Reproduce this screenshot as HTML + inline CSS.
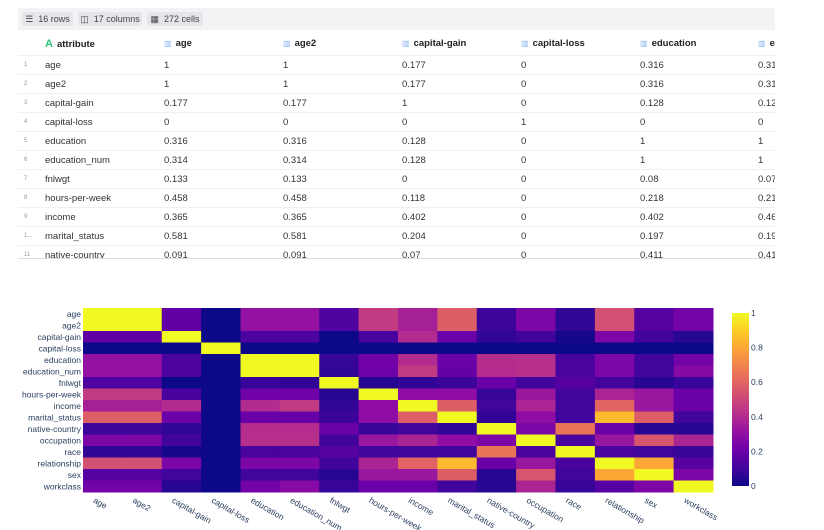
<!DOCTYPE html>
<html><head><meta charset="utf-8"><style>
body{margin:0;width:824px;height:530px;background:#fff;font-family:"Liberation Sans",sans-serif;position:relative;overflow:hidden}
#tbl{position:absolute;left:18px;top:8px;width:757px;height:250px;overflow:hidden;border-bottom:1px solid #ddd}
#bar{height:22px;background:#f2f3f5;position:relative}
.chip{position:absolute;top:4px;height:14px;background:#e4e6ea;border-radius:3px;font-size:9px;color:#444;line-height:14px;text-align:center}
.row{position:absolute;left:0;width:757px;height:19px;border-bottom:1px solid #f0f0f0;font-size:9.5px;color:#333}
.row span{position:absolute;top:5px;white-space:nowrap}
.rn{left:6px;font-size:6px!important;color:#999;top:7px!important}
.hdr{font-weight:bold;color:#222;font-size:9.5px}
.ic{color:#8ab4f0;font-weight:normal;font-size:8px;margin-right:4px}
</style></head><body>
<div id="tbl">
 <div id="bar">
  <div class="chip" style="left:4px;width:51px">☰&nbsp; 16 rows</div>
  <div class="chip" style="left:60px;width:64px">◫&nbsp; 17 columns</div>
  <div class="chip" style="left:129px;width:56px">▦&nbsp; 272 cells</div>
 </div>
 <div id="rows"></div>
</div>
<svg id="hm" width="824" height="530" style="position:absolute;left:0;top:0"></svg>
<script>
const labels=["age","age2","capital-gain","capital-loss","education","education_num","fnlwgt","hours-per-week","income","marital_status","native-country","occupation","race","relationship","sex","workclass"];
const r0=[1,1,0.177,0,0.316,0.314,0.133,0.458,0.365,0.581,0.091,0.25,0.07,0.53,0.15,0.22];
const r1=[1,1,0.177,0,0.316,0.314,0.133,0.458,0.365,0.581,0.091,0.25,0.07,0.53,0.15,0.22];
const r2=[0.177,0.177,1,0,0.128,0.128,0,0.118,0.402,0.204,0.07,0.1,0.02,0.25,0.1,0.05];
const r3=[0,0,0,1,0,0,0,0,0,0,0,0,0,0,0,0];
const r4=[0.316,0.316,0.128,0,1,1,0.08,0.218,0.402,0.197,0.411,0.42,0.12,0.25,0.1,0.22];
const r5=[0.314,0.314,0.128,0,1,1,0.07,0.21,0.46,0.19,0.41,0.42,0.12,0.25,0.1,0.28];
const r6=[0.133,0.133,0,0,0.08,0.07,1,0.05,0.07,0.09,0.2,0.1,0.15,0.1,0.05,0.08];
const r7=[0.458,0.458,0.118,0,0.218,0.21,0.05,1,0.3,0.3,0.08,0.33,0.1,0.38,0.33,0.2];
const r8=[0.365,0.365,0.402,0,0.402,0.46,0.07,0.3,1,0.58,0.1,0.38,0.1,0.6,0.33,0.2];
const r9=[0.581,0.581,0.204,0,0.197,0.19,0.09,0.3,0.58,1,0.07,0.3,0.1,0.85,0.58,0.1];
const r10=[0.091,0.091,0.07,0,0.411,0.41,0.2,0.08,0.1,0.07,1,0.25,0.65,0.2,0.05,0.05];
const r11=[0.25,0.25,0.1,0,0.42,0.42,0.1,0.33,0.38,0.3,0.25,1,0.12,0.33,0.55,0.38];
const r12=[0.07,0.07,0.02,0,0.12,0.12,0.15,0.1,0.1,0.1,0.65,0.12,1,0.12,0.1,0.08];
const r13=[0.53,0.53,0.25,0,0.25,0.25,0.1,0.38,0.6,0.85,0.2,0.33,0.12,1,0.8,0.15];
const r14=[0.15,0.15,0.1,0,0.1,0.1,0.05,0.33,0.33,0.58,0.05,0.55,0.1,0.8,1,0.25];
const r15=[0.22,0.22,0.05,0,0.22,0.28,0.08,0.2,0.2,0.1,0.05,0.38,0.08,0.15,0.25,1];
const matrix=[r0,r1,r2,r3,r4,r5,r6,r7,r8,r9,r10,r11,r12,r13,r14,r15];
const cbTicks=[0,0.2,0.4,0.6,0.8,1];
const tableCols=["age","age2","capital-gain","capital-loss","education","education_num"];

const NS="http://www.w3.org/2000/svg";
const stops=["#0d0887","#41049d","#6a00a8","#8f0da4","#b12a90","#cc4778","#e16462","#f2844b","#fca636","#fcce25","#f0f921"];
function hex(h){return [1,3,5].map(i=>parseInt(h.substr(i,2),16));}
function color(v){v=Math.max(0,Math.min(1,v));const p=v*10,i=Math.min(9,Math.floor(p)),t=p-i;const a=hex(stops[i]),b=hex(stops[i+1]);return "rgb("+a.map((c,k)=>Math.round(c+(b[k]-c)*t)).join(",")+")";}
const X0=83,X1=713,Y0=308,Y1=492,n=labels.length;
const cw=(X1-X0)/n,ch=(Y1-Y0)/n;
const xs=j=>X0+j*cw, ys=i=>Y0+i*ch;
const svg=document.getElementById('hm');
function el(t,a){const e=document.createElementNS(NS,t);for(const k in a)e.setAttribute(k,a[k]);svg.appendChild(e);return e;}
matrix.forEach((row,i)=>row.forEach((v,j)=>{
 const r=el('rect',{x:xs(j),y:ys(i),width:cw+0.5,height:ch+0.5,fill:color(v)});
 
 
}));
labels.forEach((l,i)=>{
 const t=el('text',{x:X0-2,y:ys(i)+ch/2+3,'text-anchor':'end','font-size':8.5,fill:'#2a3f5f'});t.textContent=l;
 
 
 const cx=xs(i)+cw/2;
 const u=el('text',{x:cx-10,y:Y1+10,'font-size':8.5,fill:'#2a3f5f',transform:`rotate(30 ${cx-10} ${Y1+10})`});u.textContent=l;
 
 
});
const CB0=313,CB1=486,CX=732,CW=17;
const defs=el('defs',{});const g=document.createElementNS(NS,'linearGradient');g.setAttribute('id','cbg');g.setAttribute('x1',0);g.setAttribute('y1',1);g.setAttribute('x2',0);g.setAttribute('y2',0);
stops.forEach((s,k)=>{const st=document.createElementNS(NS,'stop');st.setAttribute('offset',k/10);st.setAttribute('stop-color',s);g.appendChild(st);});defs.appendChild(g);
const cb=el('rect',{x:CX,y:CB0,width:CW,height:CB1-CB0,fill:'url(#cbg)'});


const cy=v=>CB1-v*(CB1-CB0);
cbTicks.forEach(v=>{const t=el('text',{x:CX+CW+2,y:cy(v)+3,'font-size':8.5,fill:'#2a3f5f'});t.textContent=String(v);
 
 });

const rowsEl=document.getElementById('rows');
const colX=[146,265,384,503,622,740];
function mkRow(top,h){const d=document.createElement('div');d.className='row';d.style.top=top+'px';d.style.height=h+'px';rowsEl.appendChild(d);return d;}
const hdr=mkRow(22,25);


hdr.innerHTML='<span class="hdr" style="left:27px;top:8px"><span style="position:static;color:#2ec27e;font-size:11px;margin-right:4px">A</span>attribute</span>'+
 tableCols.map((c,k)=>`<span class="hdr" style="left:${colX[k]}px;top:8px"><span class="ic" style="position:static">▥</span>${c}</span>`).join('');
for(let i=0;i<11;i++){
 const d=mkRow(47+i*19,19);
 
 
 const vals=matrix[i].slice(0,6).map(v=>Math.round(v*1000)/1000);
 d.innerHTML=`<span class="rn">${i==9?'1...':i+1}</span><span style="left:27px">${labels[i]}</span>`+vals.map((v,k)=>`<span style="left:${colX[k]}px">${v}</span>`).join('');
}
</script>
</body></html>
